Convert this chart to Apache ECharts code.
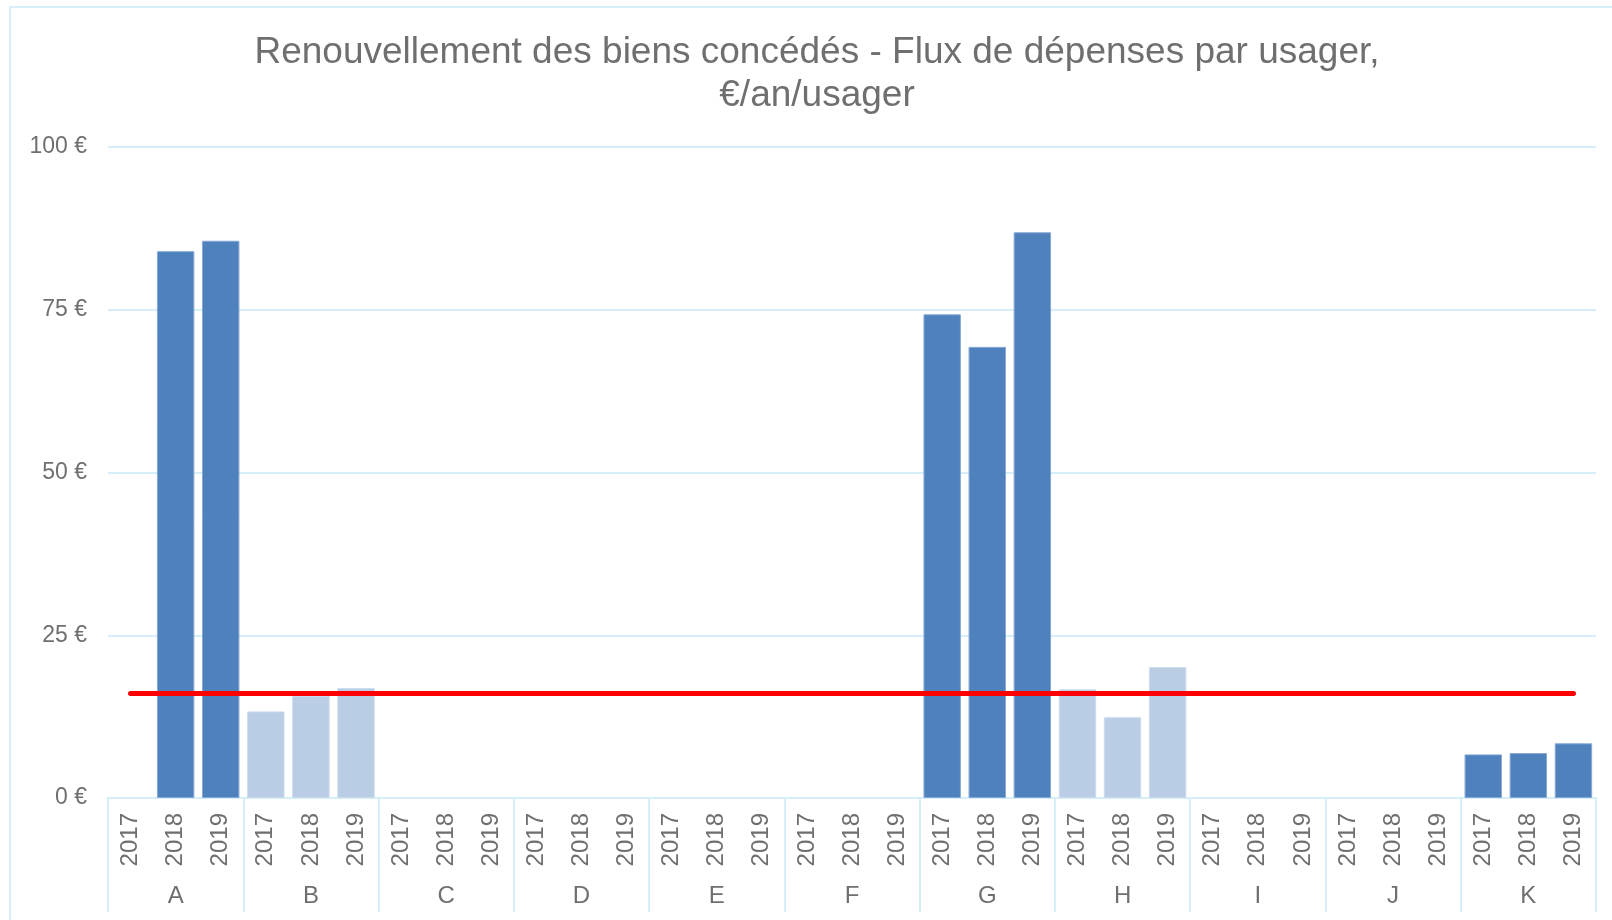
<!DOCTYPE html>
<html>
<head>
<meta charset="utf-8">
<script src="https://cdn.jsdelivr.net/npm/echarts@6/dist/echarts.min.js"></script>
<style>
html,body{margin:0;padding:0;background:#fff;}
#chart{width:1612px;height:920px;}
</style>
</head>
<body>
<div id="chart"></div>
<script>
const groups = ['A','B','C','D','E','F','G','H','I','J','K'];
const years = ['2017','2018','2019'];
// dark-blue bars (A, G, K), per group × year
const darkValues = [
  null, 84.0, 85.6,   // A
  null, null, null,   // B
  null, null, null,   // C
  null, null, null,   // D
  null, null, null,   // E
  null, null, null,   // F
  74.3, 69.3, 86.9,   // G
  null, null, null,   // H
  null, null, null,   // I
  null, null, null,   // J
  6.7, 6.9, 8.4       // K
];
// light-blue bars (B, H)
const lightValues = [
  null, null, null,   // A
  13.3, 15.7, 16.9,   // B
  null, null, null,   // C
  null, null, null,   // D
  null, null, null,   // E
  null, null, null,   // F
  null, null, null,   // G
  16.7, 12.4, 20.1,   // H
  null, null, null,   // I
  null, null, null,   // J
  null, null, null    // K
];
const referenceValue = 16.1;
const yTicks = [0, 25, 50, 75, 100];

const yearCats = [];
groups.forEach(g => years.forEach(y => yearCats.push(y)));

const FONT = 'Liberation Sans, Arial, sans-serif';
const GREY = '#6f6f6f';
const LINE = '#d5eef8';

const chart = echarts.init(document.getElementById('chart'));
chart.setOption({
  animation: false,
  backgroundColor: '#fff',
  title: {
    text: 'Renouvellement des biens concédés - Flux de dépenses par usager,\n€/an/usager',
    left: 812,
    top: 26,
    textAlign: 'center',
    textStyle: {fontFamily: FONT, fontSize: 37, fontWeight: 'normal', color: GREY, lineHeight: 43}
  },
  graphic: [{
    type: 'rect', shape: {x: 10, y: 7, width: 1620, height: 940},
    style: {fill: null, stroke: LINE, lineWidth: 2}, silent: true
  }],
  grid: {left: 108, right: 16, top: 147, bottom: 122},
  xAxis: [{
    type: 'category',
    data: yearCats,
    position: 'bottom',
    axisLine: {show: true, lineStyle: {color: LINE, width: 2}},
    axisTick: {show: false},
    axisLabel: {rotate: 90, margin: 15, fontFamily: FONT, fontSize: 24, color: GREY, interval: 0}
  }, {
    type: 'category',
    data: groups,
    position: 'bottom',
    axisLine: {show: true, lineStyle: {color: LINE, width: 2}},
    axisTick: {show: true, length: 114, lineStyle: {color: LINE, width: 2}},
    axisLabel: {margin: 86, fontFamily: FONT, fontSize: 24, color: GREY, interval: 0}
  }],
  yAxis: {
    type: 'value',
    min: yTicks[0], max: yTicks[yTicks.length - 1], interval: 25,
    axisLine: {show: false},
    axisTick: {show: false},
    splitLine: {lineStyle: {color: LINE, width: 2}},
    axisLabel: {formatter: '{value} €', margin: 21, fontFamily: FONT, fontSize: 23, color: GREY}
  },
  series: [{
    type: 'bar', name: 'dark', data: darkValues, stack: 's',
    barCategoryGap: '17%',
    itemStyle: {color: '#4f81bd', borderColor: '#86a9d4', borderWidth: 1}
  }, {
    type: 'bar', name: 'light', data: lightValues, stack: 's',
    barCategoryGap: '17%',
    itemStyle: {color: '#b9cde5', borderColor: '#cddbee', borderWidth: 1},
    markLine: {
      silent: true, symbol: ['none', 'none'], label: {show: false},
      lineStyle: {color: '#ff0000', width: 5, type: 'solid', cap: 'round'},
      data: [[{coord: [0, referenceValue]}, {coord: [yearCats.length - 1, referenceValue]}]]
    }
  }]
});
</script>
</body>
</html>
